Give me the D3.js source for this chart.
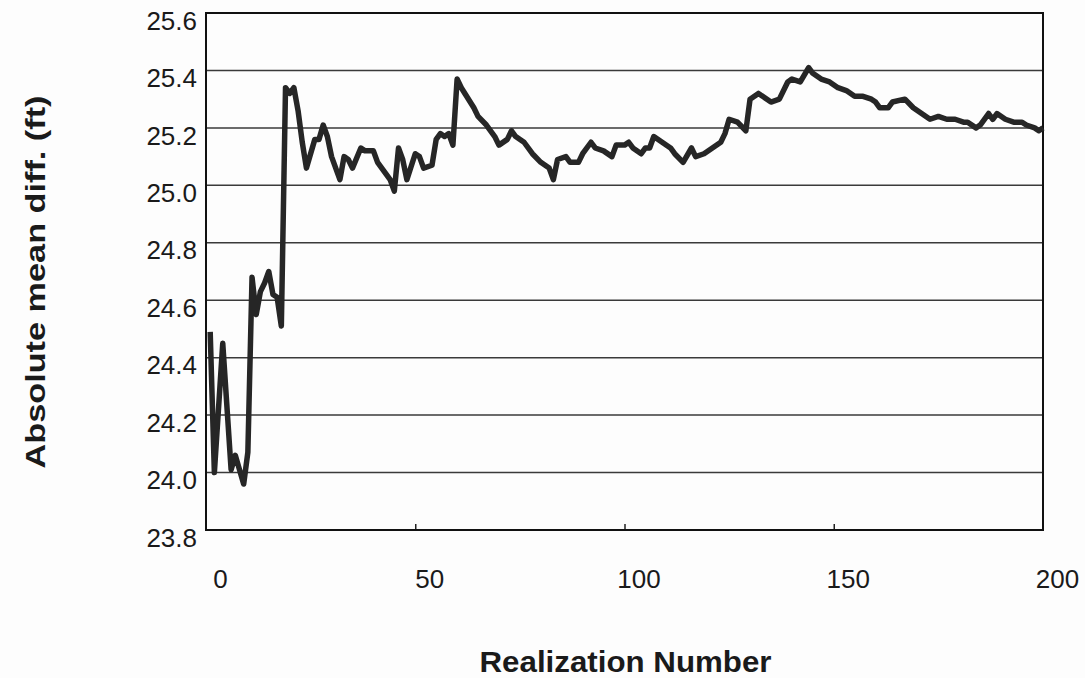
<!DOCTYPE html>
<html>
<head>
<meta charset="utf-8">
<script src="https://cdn.jsdelivr.net/npm/d3@7"></script>
<style>
  body { margin: 0; background: #fdfdfd; }
  text { font-family: "Liberation Sans", Arial, sans-serif; fill: #1a1a1a; }
</style>
</head>
<body>
<div id="chart"></div>
<script>
// realization number and the running absolute mean difference (ft)
var realization = [1, 2, 4, 6, 7, 9, 10, 11, 12, 13, 14, 15, 16, 17, 18, 19, 20, 21, 22, 23, 24,
    26, 27, 28, 29, 30, 32, 33, 34, 35, 37, 38, 40, 41, 43, 44, 45, 46, 47, 48, 50,
    51, 52, 54, 55, 56, 57, 58, 59, 60, 61, 64, 65, 67, 69, 70, 72, 73, 74, 76, 78,
    80, 82, 83, 84, 86, 87, 89, 90, 92, 93, 95, 97, 98, 100, 101, 102, 104, 105, 106, 107,
    109, 111, 112, 114, 116, 117, 119, 121, 123, 124, 125, 127, 129, 130, 132, 133, 135, 137, 139, 140,
    142, 144, 145, 147, 149, 151, 153, 155, 157, 159, 160, 161, 163, 164, 167, 169, 171, 173, 175, 177,
    179, 181, 182, 184, 185, 187, 188, 189, 191, 193, 195, 196, 198, 199, 200];
var meanDiff = [24.49, 24.00, 24.45, 24.01, 24.06, 23.96, 24.07, 24.68, 24.55, 24.63, 24.66, 24.70, 24.62, 24.61, 24.51, 25.34, 25.32, 25.34, 25.26, 25.15, 25.06,
    25.16, 25.16, 25.21, 25.17, 25.10, 25.02, 25.10, 25.09, 25.06, 25.13, 25.12, 25.12, 25.08, 25.04, 25.02, 24.98, 25.13, 25.09, 25.02, 25.11,
    25.10, 25.06, 25.07, 25.16, 25.18, 25.17, 25.18, 25.14, 25.37, 25.34, 25.27, 25.24, 25.21, 25.17, 25.14, 25.16, 25.19, 25.17, 25.15, 25.11,
    25.08, 25.06, 25.02, 25.09, 25.10, 25.08, 25.08, 25.11, 25.15, 25.13, 25.12, 25.10, 25.14, 25.14, 25.15, 25.13, 25.11, 25.13, 25.13, 25.17,
    25.15, 25.13, 25.11, 25.08, 25.13, 25.10, 25.11, 25.13, 25.15, 25.18, 25.23, 25.22, 25.19, 25.30, 25.32, 25.31, 25.29, 25.30, 25.36, 25.37,
    25.36, 25.41, 25.39, 25.37, 25.36, 25.34, 25.33, 25.31, 25.31, 25.30, 25.29, 25.27, 25.27, 25.29, 25.30, 25.27, 25.25, 25.23, 25.24, 25.23,
    25.23, 25.22, 25.22, 25.20, 25.21, 25.25, 25.23, 25.25, 25.23, 25.22, 25.22, 25.21, 25.20, 25.19, 25.20];

var xTicks = [0, 50, 100, 150, 200];
var yTicks = [23.8, 24.0, 24.2, 24.4, 24.6, 24.8, 25.0, 25.2, 25.4, 25.6];

var margin = {top: 13, right: 42, bottom: 148, left: 206},
    width = 1085 - margin.left - margin.right,
    height = 678 - margin.top - margin.bottom;

var svg = d3.select("#chart")
  .append("svg")
    .attr("width", 1085)
    .attr("height", 678)
  .append("g")
    .attr("transform", "translate(" + margin.left + "," + margin.top + ")");

var x = d3.scaleLinear()
    .domain([0, 200])
    .range([0, width]);

var y = d3.scaleLinear()
    .domain([23.8, 25.6])
    .range([height, 0]);

// horizontal grid lines (not at the frame edges)
svg.append("g")
    .selectAll("line")
    .data(yTicks.filter(function(d) { return d > 23.8 && d < 25.6; }))
    .enter()
    .append("line")
    .attr("x1", 0)
    .attr("x2", width)
    .attr("y1", function(d) { return y(d); })
    .attr("y2", function(d) { return y(d); })
    .attr("stroke", "#3a3a3a")
    .attr("stroke-width", 1.5);

// y axis labels, sit a little below their grid line like the scan
var yAxis = svg.append("g")
    .call(d3.axisLeft(y).tickValues(yTicks).tickSize(0).tickPadding(9).tickFormat(d3.format(".1f")));
yAxis.select(".domain").remove();
yAxis.selectAll("text")
    .attr("dy", "0.62em")
    .style("font-size", "26px");

// x axis: small inward ticks, labels shifted right
var xAxis = svg.append("g")
    .attr("transform", "translate(0," + height + ")")
    .call(d3.axisBottom(x).tickValues(xTicks).tickSizeInner(-6).tickSizeOuter(0).tickPadding(40));
xAxis.select(".domain").remove();
xAxis.selectAll("line")
    .attr("stroke", "#222")
    .attr("stroke-width", 1.5)
    .filter(function(d) { return d == 0 || d == 200; })
    .remove();
xAxis.selectAll("text")
    .attr("dx", 14)
    .style("font-size", "26px");

// plot frame
svg.append("rect")
    .attr("x", 0)
    .attr("y", 0)
    .attr("width", width)
    .attr("height", height)
    .attr("fill", "none")
    .attr("stroke", "#111")
    .attr("stroke-width", 2);

var line = d3.line()
    .x(function(d, i) { return x(realization[i]); })
    .y(function(d) { return y(d); });

svg.append("path")
    .datum(meanDiff)
    .attr("d", line)
    .attr("fill", "none")
    .attr("stroke", "#262626")
    .attr("stroke-width", 5.5)
    .attr("stroke-linejoin", "round");

// axis titles
svg.append("text")
    .attr("x", width / 2 + 1)
    .attr("y", height + 142)
    .attr("text-anchor", "middle")
    .attr("textLength", 292)
    .attr("lengthAdjust", "spacingAndGlyphs")
    .style("font-size", "30px")
    .style("font-weight", "bold")
    .text("Realization Number");

svg.append("text")
    .attr("transform", "translate(" + (45 - margin.left) + "," + (282 - margin.top) + ") rotate(-90)")
    .attr("text-anchor", "middle")
    .attr("textLength", 373)
    .attr("lengthAdjust", "spacingAndGlyphs")
    .style("font-size", "28px")
    .style("font-weight", "bold")
    .text("Absolute mean diff. (ft)");
</script>
</body>
</html>
